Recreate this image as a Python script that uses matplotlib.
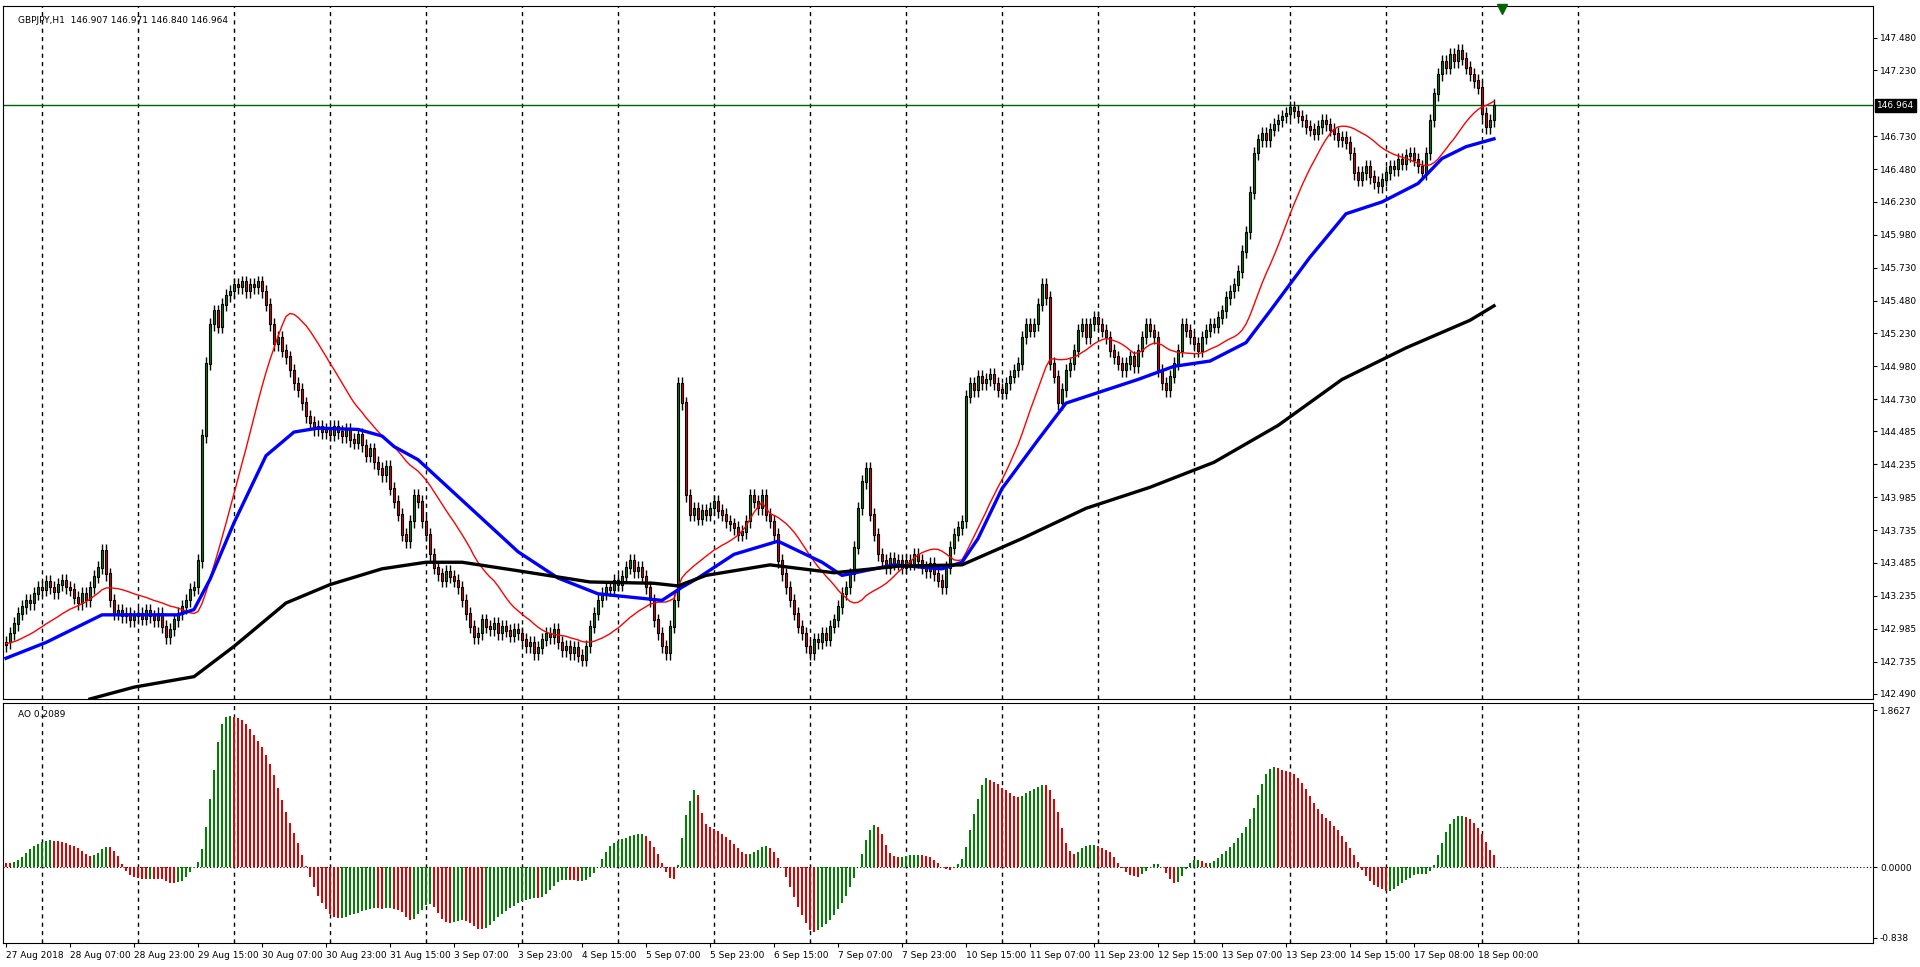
import numpy as np
import pandas as pd
import matplotlib
matplotlib.use("Agg")
import matplotlib.pyplot as plt

prior = [142.55,142.57,142.56,142.60,142.58,142.62,142.60,142.64,142.63,142.66,
         142.65,142.68,142.66,142.70,142.69,142.72,142.70,142.74,142.72,142.75,
         142.74,142.77,142.75,142.78,142.77,142.80,142.78,142.82,142.80,142.83,
         142.82,142.85,142.83,142.86,142.84,142.87,142.85,142.88,142.86,142.89,
         142.87,142.90,142.88,142.91,142.89,142.92,142.90,142.90,142.88,142.86]

closes = [
142.88,142.95,143.02,143.10,143.15,143.20,143.18,143.25,143.30,143.28,143.34,143.30,143.26,143.32,143.35,143.30,
143.28,143.22,143.18,143.25,143.20,143.30,143.38,143.45,143.58,143.40,143.20,143.10,143.12,143.08,143.10,143.05,
143.08,143.10,143.06,143.12,143.08,143.05,143.10,143.00,142.92,142.98,143.05,143.10,143.15,143.20,143.28,143.30,
143.50,144.45,145.00,145.30,145.40,145.28,145.45,145.52,145.55,145.60,145.58,145.62,145.55,145.60,145.58,145.62,
145.55,145.45,145.30,145.15,145.20,145.10,145.05,144.95,144.85,144.80,144.70,144.60,144.55,144.50,144.52,144.48,
144.50,144.46,144.52,144.48,144.45,144.50,144.42,144.40,144.46,144.38,144.30,144.35,144.25,144.20,144.15,144.22,
144.05,143.95,143.85,143.70,143.65,143.80,144.00,143.95,143.80,143.70,143.55,143.45,143.40,143.35,143.42,143.38,
143.35,143.30,143.20,143.10,143.00,142.92,142.95,143.05,143.00,142.98,143.02,142.95,143.00,142.97,142.93,142.98,
142.95,142.90,142.85,142.88,142.80,142.84,142.90,142.95,142.92,142.98,142.88,142.82,142.85,142.80,142.84,142.78,
142.75,142.85,143.00,143.10,143.20,143.25,143.30,143.28,143.35,143.32,143.38,143.45,143.50,143.42,143.45,143.38,
143.30,143.20,143.05,142.95,142.85,142.80,143.00,143.20,144.85,144.70,144.00,143.85,143.90,143.82,143.88,143.85,
143.90,143.95,143.88,143.85,143.80,143.78,143.75,143.70,143.72,143.80,144.00,143.95,143.90,144.00,143.85,143.80,
143.70,143.50,143.40,143.30,143.20,143.10,143.00,142.95,142.85,142.80,142.90,142.88,142.95,142.90,143.00,143.05,
143.15,143.25,143.30,143.40,143.60,143.90,144.10,144.20,143.85,143.70,143.55,143.50,143.45,143.52,143.48,143.50,
143.45,143.50,143.48,143.55,143.50,143.45,143.42,143.48,143.40,143.35,143.30,143.45,143.60,143.70,143.75,143.80,
144.75,144.85,144.80,144.90,144.85,144.88,144.92,144.85,144.80,144.78,144.85,144.90,144.95,145.00,145.20,145.30,
145.25,145.30,145.45,145.60,145.50,145.00,144.90,144.70,144.80,144.95,145.00,145.10,145.25,145.30,145.20,145.30,
145.35,145.30,145.25,145.20,145.10,145.05,145.00,144.95,145.00,145.05,144.98,145.10,145.20,145.30,145.25,145.20,
144.95,144.85,144.80,144.90,145.00,145.10,145.30,145.25,145.20,145.15,145.10,145.20,145.25,145.30,145.28,145.35,
145.40,145.50,145.55,145.60,145.70,145.85,146.00,146.30,146.60,146.70,146.75,146.70,146.78,146.82,146.85,146.88,
146.90,146.95,146.92,146.88,146.85,146.80,146.78,146.75,146.80,146.85,146.82,146.78,146.75,146.70,146.72,146.68,
146.60,146.45,146.40,146.45,146.50,146.42,146.38,146.35,146.40,146.45,146.50,146.48,146.55,146.52,146.58,146.60,
146.55,146.50,146.45,146.60,146.85,147.05,147.20,147.30,147.25,147.35,147.30,147.38,147.32,147.25,147.20,147.15,
147.10,146.90,146.80,146.85,146.964]

blue_bars = [0,10,24,43,47,51,57,65,72,78,88,94,97,103,128,138,148,164,169,173,182,193,204,209,222,234,239,
             243,249,258,265,274,283,292,301,310,316,326,335,344,353,359,365,372]
blue_vals = [142.76,142.88,143.09,143.09,143.13,143.36,143.79,144.30,144.48,144.51,144.50,144.45,144.37,144.27,
             143.57,143.37,143.25,143.20,143.30,143.37,143.55,143.65,143.49,143.39,143.47,143.44,143.49,
             143.67,144.05,144.42,144.70,144.79,144.88,144.98,145.02,145.16,145.40,145.81,146.14,146.23,
             146.37,146.56,146.65,146.71]

black_bars = [21,32,47,57,70,81,94,105,114,127,146,162,168,175,191,207,223,239,254,270,286,302,318,334,350,366,372]
black_vals = [142.45,142.54,142.62,142.85,143.18,143.32,143.44,143.49,143.49,143.43,143.34,143.33,143.31,143.39,
              143.47,143.41,143.46,143.47,143.67,143.90,144.06,144.25,144.53,144.88,145.12,145.33,145.44]

date_labels = ["27 Aug 2018","28 Aug 07:00","28 Aug 23:00","29 Aug 15:00","30 Aug 07:00","30 Aug 23:00",
               "31 Aug 15:00","3 Sep 07:00","3 Sep 23:00","4 Sep 15:00","5 Sep 07:00","5 Sep 23:00",
               "6 Sep 15:00","7 Sep 07:00","7 Sep 23:00","10 Sep 15:00","11 Sep 07:00","11 Sep 23:00",
               "12 Sep 15:00","13 Sep 07:00","13 Sep 23:00","14 Sep 15:00","17 Sep 08:00","18 Sep 00:00"]
price_ticks = [142.490,142.735,142.985,143.235,143.485,143.735,143.985,144.235,144.485,144.730,144.980,
               145.230,145.480,145.730,145.980,146.230,146.480,146.730,147.230,147.480]

plt.rcParams['font.family'] = ['DejaVu Sans']
n = len(closes)
full = pd.Series(prior + closes)
opens_full = full.shift(1).fillna(full.iloc[0])
o = opens_full.values[len(prior):]
c = np.array(closes)
wick = 0.05
hi = np.maximum(o, c) + wick
lo = np.minimum(o, c) - wick
x = np.arange(n)

ma_red = full.rolling(22).mean().values[len(prior):]
med = (np.maximum(opens_full, full) + np.minimum(opens_full, full)) / 2
ao_full = med.rolling(5).mean() - med.rolling(34).mean()
ao = ao_full.values[len(prior):]
ao_prev = ao_full.shift(1).values[len(prior):]

W, H = 1920, 967
fig = plt.figure(figsize=(W/100, H/100), dpi=100)
fig.patch.set_facecolor('white')
ax = fig.add_axes([3/W, 1-699/H, 1870/W, 693/H])
ax2 = fig.add_axes([3/W, 1-943/H, 1870/W, 240/H])
xl = (-0.75, -0.75 + 1870/4)
grid_x = np.arange(9, 400, 24)
for a in (ax, ax2):
    a.set_xlim(*xl)
    for g in grid_x:
        a.axvline(g, color='black', lw=1, ls=(0, (3, 3)), zorder=0)
    a.yaxis.tick_right()
    a.tick_params(axis='y', labelsize=6.5, length=3, pad=2)
    for s in a.spines.values():
        s.set_color('black')

up = c >= o
colors = np.where(up, '#008000', '#e00000')
ax.vlines(x, lo, hi, color='black', lw=1, zorder=2)
ax.bar(x, np.abs(c - o) + 0.005, bottom=np.minimum(o, c), width=0.6, color=colors,
       edgecolor='black', linewidth=0.8, zorder=3)
ax.plot(x, ma_red, color='red', lw=1, zorder=4)
ax.plot(blue_bars, blue_vals, color='blue', lw=2.4, zorder=4)
ax.plot(black_bars, black_vals, color='black', lw=2.4, zorder=4)
ax.axhline(closes[-1], color='#006400', lw=1, zorder=1)
ax.set_ylim(142.45, 147.72)
ax.set_yticks(price_ticks)
ax.set_yticklabels([f"{v:.3f}" for v in price_ticks])
ax.set_xticks([])
ax.text(1.002, closes[-1], f"{closes[-1]:.3f}", transform=ax.get_yaxis_transform(), fontsize=6.5,
        color='white', va='center', ha='left', bbox=dict(facecolor='black', edgecolor='black', pad=1.5))
ax.plot([n + 1], [147.70], marker='v', color='#006400', markersize=7, zorder=5, clip_on=False)
ax.text(0.008, 0.985, "GBPJPY,H1  146.907 146.971 146.840 146.964", transform=ax.transAxes,
        fontsize=6.5, va='top', ha='left')

aocol = np.where(ao >= ao_prev, '#008000', '#e00000')
ax2.bar(x, ao, width=0.6, color=aocol, zorder=3)
ax2.axhline(0, color='black', lw=0.8, ls=(0, (1, 2)), zorder=2)
ax2.set_ylim(-0.9, 1.95)
ax2.set_yticks([1.8627, 0.0, -0.838])
ax2.set_yticklabels(["1.8627", "0.0000", "-0.838"])
ax2.set_xticks(np.arange(0, 16*len(date_labels), 16))
ax2.set_xticklabels(date_labels, fontsize=6.5, ha='left')
ax2.tick_params(axis='x', length=3, pad=3)
ax2.text(0.008, 0.97, "AO 0.2089", transform=ax2.transAxes, fontsize=6.5, va='top', ha='left')

fig.savefig("out.png", dpi=100)
